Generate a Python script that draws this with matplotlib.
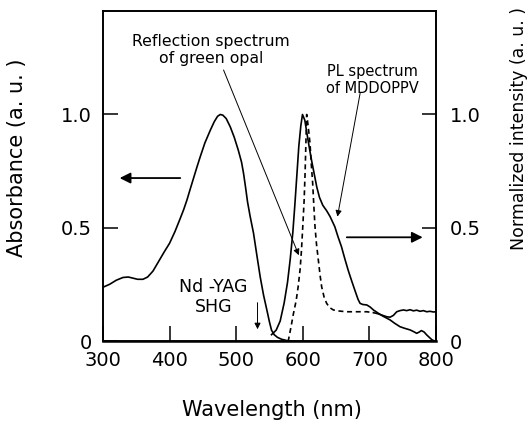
import matplotlib
matplotlib.use("Agg")
import matplotlib.pyplot as plt

plt.rcParams['font.family'] = ['DejaVu Sans']

# Absorbance (left axis)
abs_wl = [300, 310, 320, 330, 338, 345, 352, 360, 367, 375, 383, 392, 400, 408, 415, 421,
          426, 431, 436, 441, 446, 453, 461, 467, 472, 476, 480, 485, 491, 497, 503, 508,
          511, 514, 517, 521, 526, 531, 536, 541, 546, 550, 553, 557, 562, 568, 576, 586,
          600, 700, 800]
abs_val = [0.239, 0.252, 0.270, 0.282, 0.284, 0.279, 0.274, 0.274, 0.284, 0.310, 0.350,
           0.395, 0.433, 0.484, 0.535, 0.58, 0.623, 0.672, 0.72, 0.768, 0.814, 0.875, 0.93,
           0.968, 0.992, 1.0, 0.997, 0.982, 0.946, 0.90, 0.844, 0.79, 0.741, 0.68, 0.615,
           0.55, 0.477, 0.38, 0.285, 0.205, 0.139, 0.085, 0.05, 0.03, 0.018, 0.01, 0.004,
           0.0, 0.0, 0.0, 0.0]

# PL spectrum of MDDOPPV (right axis)
pl_wl = [553, 560, 566, 572, 577, 581, 585, 588, 591, 594, 597, 599.5, 603, 606, 610, 613,
         617, 621, 625, 630, 636, 641, 648, 653, 658, 663, 668, 673, 678, 683, 686, 690,
         696, 701, 706, 713, 720, 731, 738, 746, 753, 761, 766, 771, 775, 778, 782, 786,
         790, 794, 800]
pl_val = [0.03, 0.05, 0.09, 0.17, 0.26, 0.36, 0.48, 0.60, 0.73, 0.86, 0.95, 1.0, 0.975,
          0.92, 0.85, 0.80, 0.74, 0.68, 0.635, 0.60, 0.575, 0.55, 0.506, 0.46, 0.418, 0.365,
          0.315, 0.27, 0.227, 0.185, 0.168, 0.163, 0.161, 0.152, 0.139, 0.125, 0.112, 0.095,
          0.08, 0.065, 0.058, 0.051, 0.044, 0.036, 0.042, 0.048, 0.042, 0.029, 0.018, 0.007,
          0.0]

# Reflection spectrum of green opal (right axis)
ref_wl = [578, 582, 586, 590, 593, 596, 598, 600, 602, 603.5, 604.5, 605.8, 608, 610.8,
          612.5, 614.8, 616.5, 618.3, 620.5, 623.3, 626, 628.3, 632, 635.8, 640, 645.8, 655,
          666, 680, 696, 706, 713, 720, 726, 731, 736, 741, 746, 751, 756, 761, 766, 771,
          776, 781, 786, 791, 796, 800]
ref_val = [0.0, 0.06, 0.124, 0.18, 0.241, 0.32, 0.403, 0.51, 0.623, 0.75, 0.86, 1.0, 0.95,
           0.873, 0.79, 0.697, 0.60, 0.506, 0.43, 0.359, 0.29, 0.241, 0.195, 0.168, 0.15,
           0.139, 0.134, 0.131, 0.131, 0.131, 0.127, 0.122, 0.115, 0.109, 0.107, 0.115, 0.131,
           0.136, 0.139, 0.136, 0.140, 0.135, 0.138, 0.133, 0.136, 0.131, 0.133, 0.130, 0.131]
ref_dash_end = 706  # reflection curve drawn dashed up to here, solid beyond

x_ticks = [300, 400, 500, 600, 700, 800]
y_ticks = [0, 0.5, 1.0]
y_ticklabels = ['0', '0.5', '1.0']

fig = plt.figure(figsize=(5.32, 4.24), dpi=100)
ax = fig.add_axes([0.1936, 0.1946, 0.626, 0.7795])
ax2 = ax.twinx()

ax.plot(abs_wl, abs_val, color='black', lw=1.2)
ax2.plot(pl_wl, pl_val, color='black', lw=1.2)
d_wl = [w for w in ref_wl if w <= ref_dash_end]
d_v = [v for w, v in zip(ref_wl, ref_val) if w <= ref_dash_end]
s_wl = [w for w in ref_wl if w >= ref_dash_end]
s_v = [v for w, v in zip(ref_wl, ref_val) if w >= ref_dash_end]
ax2.plot(d_wl, d_v, color='black', lw=1.2, linestyle=(0, (3, 2.2)))
ax2.plot(s_wl, s_v, color='black', lw=1.2)

for a in (ax, ax2):
    a.set_xlim(300, 800)
    a.set_ylim(0, 1.456)
    a.set_yticks(y_ticks)
    a.set_yticklabels(y_ticklabels)
    for sp in a.spines.values():
        sp.set_linewidth(1.2)
ax.spines['bottom'].set_linewidth(1.8)

ax.set_xticks(x_ticks)
ax.set_xticklabels([str(t) for t in x_ticks])
ax.tick_params(axis='x', direction='in', length=11, width=1.1, pad=7, labelsize=14)
ax.tick_params(axis='y', direction='in', length=11, width=1.1, pad=8, labelsize=14)
ax2.tick_params(axis='y', direction='in', length=10, width=1.1, pad=10, labelsize=14)

fig.text(272 / 532, 1 - 410 / 424, 'Wavelength (nm)', ha='center', va='center', fontsize=15)
fig.text(17 / 532, 1 - 158 / 424, 'Absorbance (a. u. )', ha='center', va='center',
         rotation=90, fontsize=15)
fig.text(519 / 532, 1 - 128 / 424, 'Normalized intensity (a. u. )', ha='center', va='center',
         rotation=90, fontsize=12.5)

# direction arrows
big = dict(arrowstyle='-|>', lw=1.3, color='black', mutation_scale=16, shrinkA=0, shrinkB=0)
ax.annotate('', xy=(325, 0.72), xytext=(416, 0.72), arrowprops=big)
ax.annotate('', xy=(780, 0.459), xytext=(666, 0.459), arrowprops=big)

thin = dict(arrowstyle='-|>', lw=0.7, color='black', mutation_scale=9, shrinkA=0, shrinkB=0)
ax.annotate('', xy=(594, 0.38), xytext=(481, 1.196), arrowprops=thin)
ax.annotate('', xy=(652, 0.55), xytext=(686, 1.093), arrowprops=thin)
ax.annotate('', xy=(532, 0.054), xytext=(532, 0.171), arrowprops=thin)

ax.text(462, 1.284, 'Reflection spectrum\nof green opal', ha='center', va='center',
        fontsize=11.3, linespacing=1.15)
ax.text(705, 1.152, 'PL spectrum\nof MDDOPPV', ha='center', va='center', fontsize=10.5,
        linespacing=1.15)
ax.text(466, 0.196, 'Nd -YAG\nSHG', ha='center', va='center', fontsize=12.5, linespacing=1.1)

fig.savefig('out.png', dpi=100)
